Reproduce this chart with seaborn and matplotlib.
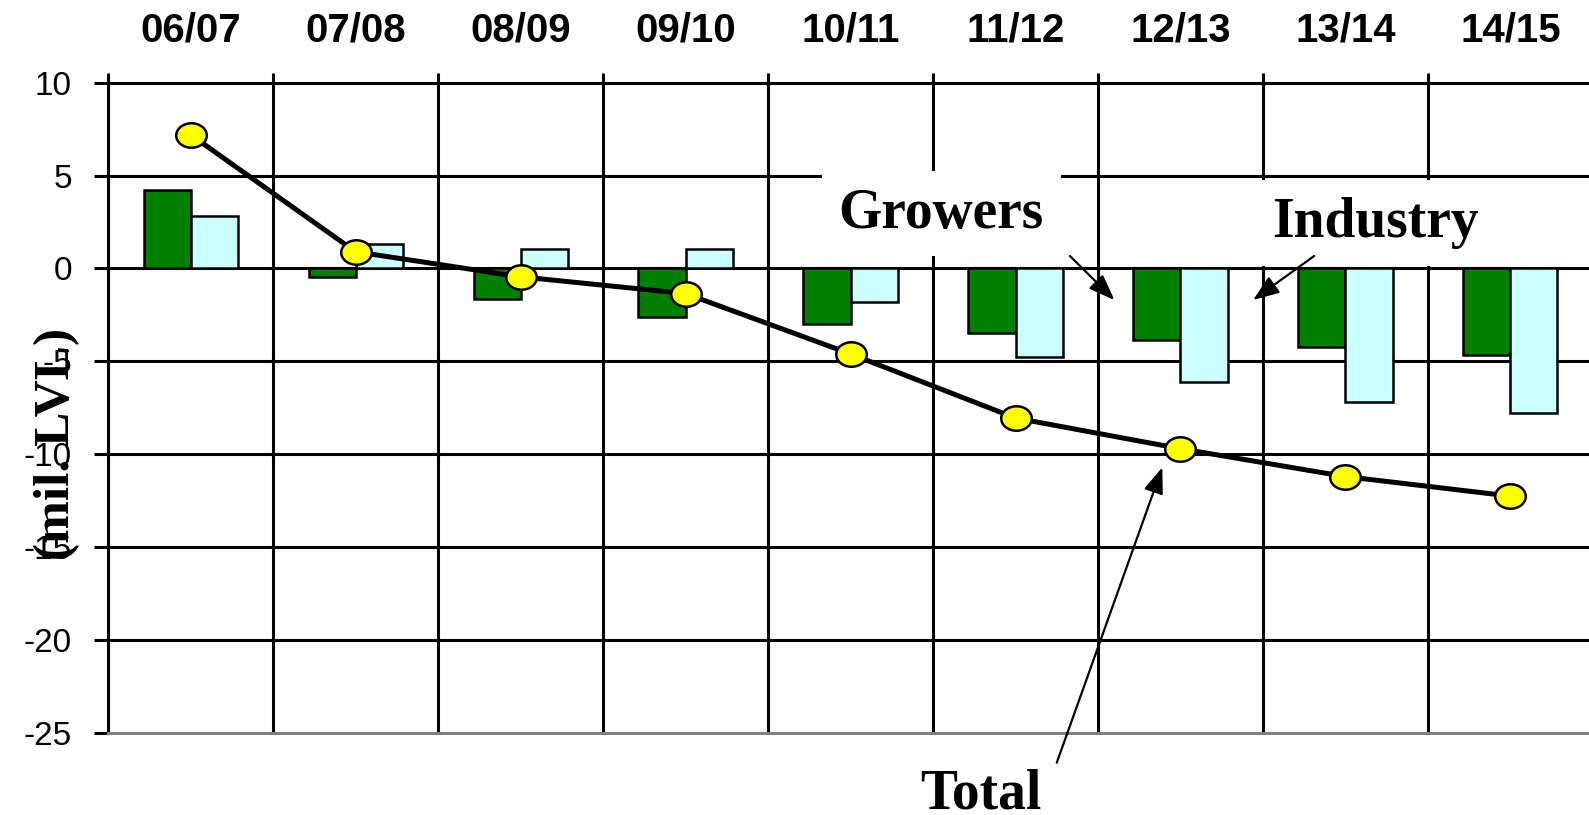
import numpy as np
import pandas as pd
import matplotlib
matplotlib.use("Agg")
import matplotlib.pyplot as plt
from matplotlib.path import Path
import seaborn as sns

# Net change by season (mil. LVL)
seasons = ["06/07", "07/08", "08/09", "09/10", "10/11", "11/12", "12/13", "13/14", "14/15"]
growers = [4.2, -0.45, -1.65, -2.6, -3.0, -3.45, -3.85, -4.2, -4.65]
industry = [2.8, 1.3, 1.05, 1.05, -1.8, -4.75, -6.1, -7.2, -7.8]
total = [7.2, 0.9, -0.45, -1.35, -4.6, -8.05, -9.7, -11.2, -12.25]

y_ticks = [-25, -20, -15, -10, -5, 0, 5, 10]
y_tick_labels = ["-25", "-20", "-15", "-10", "-5", "0", "5", "10"]

sns.set_style("white")
plt.rcParams["font.family"] = ["Liberation Sans", "DejaVu Sans"]
plt.rcParams["text.color"] = "black"
plt.rcParams["xtick.color"] = "black"
plt.rcParams["ytick.color"] = "black"
plt.rcParams["axes.labelcolor"] = "black"

df = pd.DataFrame({
    "Season": seasons * 2,
    "Sector": ["Growers"] * len(seasons) + ["Industry"] * len(seasons),
    "Value": growers + industry,
})

fig = plt.figure(figsize=(15.89, 8.15), dpi=100)
ax = fig.add_axes([0.068, 0.1006, 0.9345, 0.798])

sns.barplot(
    data=df, x="Season", y="Value", hue="Sector",
    palette={"Growers": "#008000", "Industry": "#CCFFFF"}, saturation=1,
    width=0.57, gap=0, edgecolor="black", linewidth=1.8,
    legend=False, ax=ax, zorder=2,
)

# elliptical marker for the total line
circ = Path.unit_circle()
ellipse = Path(circ.vertices * np.array([1.0, 0.8]), circ.codes)

sns.pointplot(
    x=seasons, y=total, color="black", markers=ellipse, linestyles="-",
    linewidth=3.6, markersize=22, markerfacecolor="#FFFF00",
    markeredgecolor="black", markeredgewidth=1.8, errorbar=None,
    ax=ax, zorder=4,
)

ax.set_ylim(-25, 10)
ax.set_xlim(-0.5, len(seasons) - 0.5)
ax.set_yticks(y_ticks)
ax.set_yticklabels(y_tick_labels)
ax.set_xlabel("")
ax.set_ylabel("")

# season labels on top, boundary ticks between seasons
ax.xaxis.tick_top()
ax.set_xticks(range(len(seasons)))
ax.set_xticklabels(seasons, fontweight="bold")
ax.set_xticks(np.arange(-0.5, len(seasons)), minor=True)
ax.tick_params(axis="x", which="major", length=0, pad=24, labelsize=29,
               top=True, bottom=False)
ax.tick_params(axis="x", which="minor", length=7, width=2.2, direction="out",
               top=True, bottom=False, color="black")
ax.tick_params(axis="y", which="major", length=10, width=2.2, direction="out",
               pad=16, labelsize=24, color="black", left=True)

ax.set_axisbelow(True)
ax.grid(which="major", axis="y", color="black", linewidth=2.2)
ax.grid(which="minor", axis="x", color="black", linewidth=2.2)
ax.grid(which="major", axis="x", visible=False)

for side in ["left", "top"]:
    ax.spines[side].set_color("black")
    ax.spines[side].set_linewidth(2.2)
ax.spines["bottom"].set_color("#808080")
ax.spines["bottom"].set_linewidth(2.2)
ax.spines["right"].set_visible(False)

serif = ["Liberation Serif", "DejaVu Serif"]
box = dict(boxstyle="square,pad=0.3", fc="white", ec="none")
arrow = dict(arrowstyle="-|>,head_length=0.8,head_width=0.3", color="black",
             lw=1.6, mutation_scale=20, shrinkA=0, shrinkB=0)

ax.text(4.55, 2.2, "Growers", ha="center", va="baseline", fontsize=40,
        fontweight="bold", family=serif, bbox=box, zorder=3)
ax.annotate("", xy=(5.6, -1.7), xytext=(5.33, 0.67), arrowprops=arrow,
            annotation_clip=False, zorder=5)

ax.text(7.18, 1.7, "Industry", ha="center", va="baseline", fontsize=40,
        fontweight="bold", family=serif, bbox=box, zorder=3)
ax.annotate("", xy=(6.44, -1.7), xytext=(6.81, 0.67), arrowprops=arrow,
            annotation_clip=False, zorder=5)

ax.text(4.79, -29.05, "Total", ha="center", va="baseline", fontsize=40,
        fontweight="bold", family=serif, clip_on=False)
ax.annotate("", xy=(5.89, -10.7), xytext=(5.25, -26.6), arrowprops=arrow,
            annotation_clip=False, zorder=5)

fig.text(0.0359, 0.455, "(mil. LVL)", rotation=90, ha="center", va="center",
         fontsize=37, fontweight="bold", family=serif)

fig.savefig("out.png", dpi=100)
